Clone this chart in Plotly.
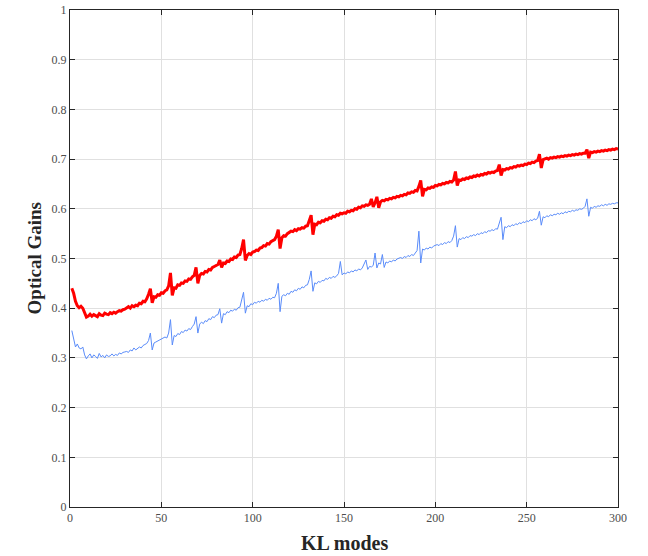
import plotly.graph_objects as go

red_gains = [
    0.440, 0.430, 0.414, 0.405, 0.401, 0.404, 0.400, 0.390, 0.382, 0.384,
    0.388, 0.384, 0.387, 0.385, 0.383, 0.389, 0.386, 0.385, 0.390, 0.388,
    0.387, 0.391, 0.389, 0.392, 0.390, 0.393, 0.395, 0.394, 0.397, 0.398,
    0.400, 0.403, 0.400, 0.405, 0.403, 0.406, 0.405, 0.410, 0.409, 0.414,
    0.413, 0.419, 0.428, 0.439, 0.411, 0.423, 0.422, 0.427, 0.426, 0.431,
    0.430, 0.435, 0.437, 0.445, 0.471, 0.426, 0.441, 0.440, 0.447, 0.446,
    0.451, 0.450, 0.455, 0.454, 0.459, 0.458, 0.463, 0.466, 0.482, 0.450,
    0.466, 0.470, 0.469, 0.474, 0.473, 0.478, 0.477, 0.482, 0.484, 0.486,
    0.488, 0.497, 0.482, 0.491, 0.490, 0.495, 0.494, 0.499, 0.498, 0.503,
    0.502, 0.507, 0.508, 0.520, 0.538, 0.496, 0.506, 0.510, 0.508, 0.513,
    0.514, 0.517, 0.516, 0.521, 0.522, 0.526, 0.525, 0.530, 0.529, 0.534,
    0.536, 0.538, 0.545, 0.558, 0.520, 0.542, 0.546, 0.545, 0.550, 0.552,
    0.555, 0.554, 0.558, 0.556, 0.560, 0.559, 0.562, 0.561, 0.565, 0.566,
    0.576, 0.587, 0.548, 0.569, 0.568, 0.573, 0.572, 0.576, 0.575, 0.579,
    0.578, 0.582, 0.581, 0.585, 0.584, 0.588, 0.587, 0.591, 0.590, 0.592,
    0.591, 0.595, 0.594, 0.597, 0.596, 0.600, 0.599, 0.603, 0.602, 0.606,
    0.605, 0.608, 0.607, 0.609, 0.620, 0.604, 0.612, 0.624, 0.602, 0.614,
    0.617, 0.616, 0.619, 0.618, 0.621, 0.620, 0.623, 0.622, 0.625, 0.624,
    0.627, 0.626, 0.629, 0.628, 0.632, 0.631, 0.634, 0.633, 0.637, 0.636,
    0.645, 0.657, 0.625, 0.639, 0.638, 0.642, 0.641, 0.644, 0.643, 0.647,
    0.646, 0.649, 0.648, 0.651, 0.650, 0.653, 0.652, 0.655, 0.654, 0.658,
    0.675, 0.647, 0.658, 0.657, 0.660, 0.659, 0.662, 0.661, 0.664, 0.663,
    0.666, 0.665, 0.668, 0.666, 0.669, 0.668, 0.671, 0.670, 0.673, 0.672,
    0.674, 0.673, 0.676, 0.677, 0.689, 0.667, 0.679, 0.678, 0.681, 0.680,
    0.683, 0.682, 0.685, 0.684, 0.687, 0.686, 0.688, 0.687, 0.690, 0.689,
    0.692, 0.691, 0.694, 0.693, 0.696, 0.697, 0.710, 0.682, 0.699, 0.700,
    0.702, 0.700, 0.703, 0.702, 0.704, 0.703, 0.705, 0.704, 0.706, 0.705,
    0.707, 0.706, 0.708, 0.707, 0.709, 0.708, 0.710, 0.709, 0.711, 0.710,
    0.712, 0.712, 0.719, 0.702, 0.714, 0.713, 0.715, 0.714, 0.716, 0.715,
    0.717, 0.716, 0.718, 0.717, 0.719, 0.718, 0.720, 0.719, 0.721, 0.720,
]

blue_gains = [
    0.355, 0.338, 0.322, 0.328, 0.320, 0.318, 0.322, 0.306, 0.298, 0.304,
    0.308, 0.300, 0.306, 0.303, 0.299, 0.309, 0.302, 0.305, 0.300, 0.306,
    0.303, 0.304, 0.308, 0.304, 0.307, 0.305, 0.310, 0.308, 0.311, 0.312,
    0.313, 0.311, 0.316, 0.314, 0.320, 0.316, 0.319, 0.322, 0.320, 0.325,
    0.327, 0.329, 0.335, 0.350, 0.316, 0.330, 0.332, 0.334, 0.336, 0.338,
    0.339, 0.342, 0.340, 0.350, 0.377, 0.326, 0.345, 0.343, 0.349, 0.347,
    0.353, 0.351, 0.356, 0.354, 0.359, 0.357, 0.363, 0.368, 0.383, 0.350,
    0.368, 0.372, 0.369, 0.375, 0.373, 0.379, 0.377, 0.383, 0.381, 0.386,
    0.387, 0.399, 0.370, 0.389, 0.387, 0.393, 0.391, 0.396, 0.394, 0.398,
    0.396, 0.401, 0.402, 0.415, 0.432, 0.390, 0.405, 0.403, 0.409, 0.407,
    0.412, 0.410, 0.414, 0.412, 0.416, 0.414, 0.418, 0.416, 0.420, 0.418,
    0.422, 0.421, 0.430, 0.450, 0.393, 0.424, 0.427, 0.425, 0.430, 0.428,
    0.434, 0.432, 0.437, 0.435, 0.440, 0.438, 0.443, 0.441, 0.446, 0.447,
    0.458, 0.475, 0.434, 0.451, 0.449, 0.454, 0.452, 0.456, 0.455, 0.460,
    0.458, 0.462, 0.460, 0.464, 0.462, 0.465, 0.470, 0.494, 0.467, 0.471,
    0.469, 0.473, 0.471, 0.475, 0.473, 0.477, 0.475, 0.479, 0.477, 0.481,
    0.488, 0.497, 0.478, 0.484, 0.483, 0.486, 0.511, 0.481, 0.491, 0.489,
    0.508, 0.482, 0.493, 0.491, 0.495, 0.493, 0.497, 0.495, 0.499, 0.500,
    0.502, 0.500, 0.504, 0.502, 0.506, 0.504, 0.508, 0.506, 0.510, 0.516,
    0.555, 0.491, 0.519, 0.517, 0.521, 0.519, 0.523, 0.521, 0.525, 0.526,
    0.528, 0.526, 0.530, 0.528, 0.532, 0.530, 0.534, 0.532, 0.536, 0.545,
    0.566, 0.523, 0.540, 0.538, 0.542, 0.540, 0.544, 0.542, 0.546, 0.545,
    0.548, 0.546, 0.550, 0.548, 0.552, 0.550, 0.554, 0.552, 0.556, 0.555,
    0.558, 0.556, 0.560, 0.559, 0.570, 0.583, 0.538, 0.564, 0.562, 0.566,
    0.564, 0.568, 0.566, 0.570, 0.568, 0.572, 0.570, 0.574, 0.572, 0.576,
    0.574, 0.578, 0.576, 0.580, 0.578, 0.581, 0.595, 0.567, 0.584, 0.582,
    0.586, 0.584, 0.588, 0.586, 0.589, 0.588, 0.591, 0.589, 0.592, 0.590,
    0.594, 0.592, 0.595, 0.594, 0.597, 0.595, 0.598, 0.597, 0.600, 0.599,
    0.601, 0.605, 0.620, 0.585, 0.603, 0.601, 0.605, 0.603, 0.606, 0.605,
    0.608, 0.606, 0.609, 0.607, 0.610, 0.609, 0.611, 0.610, 0.612, 0.612,
]

modes_red = list(range(1, len(red_gains) + 1))
modes_blue = list(range(1, len(blue_gains) + 1))

x_ticks = [0, 50, 100, 150, 200, 250, 300]
y_ticks = [0, 0.1, 0.2, 0.3, 0.4, 0.5, 0.6, 0.7, 0.8, 0.9, 1]
y_tick_labels = ["0", "0.1", "0.2", "0.3", "0.4", "0.5", "0.6", "0.7", "0.8", "0.9", "1"]

SERIF = "Liberation Serif, DejaVu Serif, serif"

fig = go.Figure()
fig.add_trace(go.Scatter(x=modes_blue, y=blue_gains, mode="lines",
                         line=dict(color="#5a8cfa", width=1), showlegend=False))
fig.add_trace(go.Scatter(x=modes_red, y=red_gains, mode="lines",
                         line=dict(color="#ff0000", width=3), showlegend=False))

axis_common = dict(
    showline=True, linecolor="#262626", linewidth=1, mirror="ticks",
    ticks="inside", ticklen=5, tickcolor="#262626",
    showgrid=True, gridcolor="#e0e0e0", gridwidth=1, zeroline=False,
    tickfont=dict(family=SERIF, size=12, color="#4d4d4d"),
    automargin=False,
)

fig.update_xaxes(range=[0, 300], tickvals=x_ticks, **axis_common)
fig.update_yaxes(range=[0, 1], tickvals=y_ticks, ticktext=y_tick_labels, **axis_common)

fig.update_layout(
    width=648, height=556,
    margin=dict(l=70, r=30, t=10, b=49),
    paper_bgcolor="white", plot_bgcolor="white",
    annotations=[
        dict(text="<b>KL modes</b>", xref="paper", yref="paper",
             x=0.5, y=-0.072, xanchor="center", yanchor="middle", showarrow=False,
             font=dict(family=SERIF, size=20, color="#262626")),
        dict(text="<b>Optical Gains</b>", xref="paper", yref="paper",
             x=-0.064, y=0.5, xanchor="center", yanchor="middle", showarrow=False,
             textangle=-90, font=dict(family=SERIF, size=19, color="#262626")),
    ],
)

fig.write_html("out.html", config={"displayModeBar": False},
               post_script="document.body.style.margin='0px';")
